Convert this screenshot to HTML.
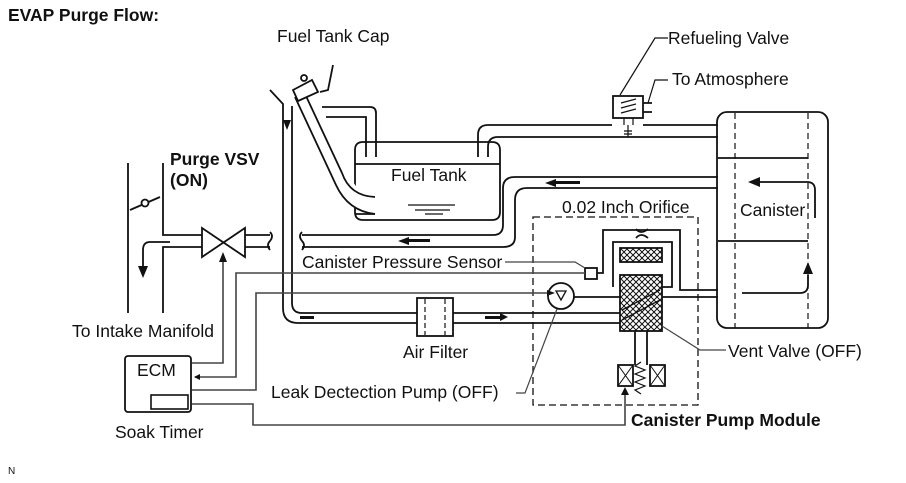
<!DOCTYPE html>
<html><head><meta charset="utf-8"><style>
html,body{margin:0;padding:0;background:#fff;width:906px;height:483px;overflow:hidden}
svg{display:block}
text{font-family:"Liberation Sans",Arial,sans-serif;font-size:17.5px;fill:#111}
.b{font-weight:bold}
</style></head><body>
<svg width="906" height="483" viewBox="0 0 906 483" xmlns="http://www.w3.org/2000/svg">
<defs>
<pattern id="h" width="6" height="6" patternUnits="userSpaceOnUse"><path d="M0 0L6 6M6 0L0 6" stroke="#111" stroke-width="1"/></pattern>
</defs>
<g fill="none" stroke="#111" stroke-width="1.8">
<line x1="128" y1="163" x2="128" y2="313"/>
<path d="M163 163V235H202"/>
<path d="M163 313V247H202"/>
<path d="M130 210L160 197"/>
<circle cx="145" cy="203" r="3.5" fill="#fff"/>
<path d="M170 242H150Q143 242 143 250V268"/>
<path d="M202 228L245 257V228L202 257Z"/>
<path d="M245 235H270M245 247H270"/>
<path d="M270 232q4 4 0 9q-4 4 0 9"/>
<path d="M302 232q-4 4 0 9q4 4 0 9"/>
<path d="M302 235H493Q503 235 503 225V188Q503 177 515 177H718"/>
<path d="M302 247H503Q515 247 515 237V200Q515 188 527 188H718"/>
<path d="M270 90L283 104V308Q283 323 298 323H417"/>
<path d="M292 106V303Q292 313 302 313H417"/>
<path d="M453 313H620M453 323H620"/>
<rect x="417" y="298" width="36" height="38"/>
<path d="M425 299V335M445 299V335" stroke-dasharray="5 3" stroke-width="1.2"/>
<path d="M355 150Q355 142 363 142H492Q500 142 500 150V212Q500 220 492 220H363Q355 220 355 212Z"/>
<line x1="355" y1="164" x2="500" y2="164"/>
<path d="M408 205H455M415 210H450M425 214H443" stroke-width="1.2"/>
<path d="M295 97L336 185Q348 211 375 214" fill="#fff"/>
<path d="M306 96L342 173Q350 196 375 197"/>
<path d="M355 214H375"/>
<path d="M293 90L312 80L318 92L298 101Z" fill="#fff"/>
<circle cx="304" cy="78" r="3" fill="#fff"/>
<path d="M320 92L328 90L333 65"/>
<path d="M322 107H370Q376 107 376 113V157"/>
<path d="M326 117H366V157"/>
<path d="M478 157V135Q478 125 488 125H612"/>
<path d="M488 157V147Q488 137 498 137H718"/>
<path d="M643 125H718"/>
<rect x="613" y="96" width="30" height="22"/>
<path d="M621 103L636 99M621 108L636 104M621 113L636 109" stroke-width="1.2"/>
<path d="M624 118V125M633 118V125M628 125V137M624 131H632M624 134H632" stroke-width="1.2"/>
<path d="M643 103H652M643 112H652"/>
<path d="M620 95L655 38H668" stroke-width="1.2"/>
<path d="M648 103L655 80H668" stroke-width="1.2"/>
<rect x="717" y="112" width="111" height="216" rx="10"/>
<path d="M735 113V328M808 113V328" stroke-dasharray="6 4" stroke-width="1.2"/>
<path d="M718 158H808M718 241H808"/>
<path d="M815 218V190Q815 182 807 182H760"/>
<path d="M742 293H800Q808 293 808 285V275"/>
<rect x="533" y="217" width="165" height="188" stroke-dasharray="7 4" stroke-width="1.3"/>
<path d="M597 273H603V230H680V290H718"/>
<path d="M613 287V242H672V287H662"/>
<rect x="620" y="248" width="42" height="14" fill="url(#h)"/>
<rect x="620" y="275" width="42" height="56" fill="url(#h)"/>
<path d="M622 310L660 290M622 320L660 300" stroke-width="1.3"/>
<path d="M662 297H718"/>
<path d="M574 297H620"/>
<path d="M636 238q5 -6 12 0M636 229q5 6 12 0"/>
<rect x="585" y="268" width="12" height="11"/>
<circle cx="561" cy="296" r="13" fill="#fff"/>
<path d="M556 291H566L561 300Z" stroke-width="1.3"/>
<path d="M635 331V365M647 331V365"/>
<rect x="618" y="365" width="15" height="21"/>
<rect x="650" y="365" width="15" height="21"/>
<path d="M618 365L633 386M633 365L618 386M650 365L665 386M665 365L650 386" stroke-width="1"/>
<path d="M641 362l-6 4l10 4l-10 4l10 4l-10 4l10 4l-10 4l6 4" stroke-width="1.2"/>
</g>
<g fill="none" stroke="#444" stroke-width="1.6">
<path d="M223 257V363H192"/>
<path d="M585 273H236V377H195"/>
<path d="M548 293H256V390H192"/>
<path d="M192 404H253V425H625V390"/>
<path d="M505 262H575L585 268" stroke-width="1.2"/>
<path d="M516 393H525L557 309" stroke-width="1.2"/>
<path d="M662 326L700 350H726" stroke-width="1.2"/>
</g>
<rect x="125" y="356" width="66" height="56" rx="3" fill="none" stroke="#111" stroke-width="1.8"/>
<rect x="151" y="395" width="37" height="14" fill="none" stroke="#111" stroke-width="1.6"/>
<g fill="#111">
<path d="M138 266H148L143 278Z"/>
<path d="M283 120H291L287 130Z"/>
<path d="M545 183L556 179V187Z"/><rect x="555" y="181" width="25" height="3"/>
<path d="M398 241L409 237V245Z"/><rect x="408" y="239" width="22" height="3"/>
<path d="M748 182L760 177V187Z"/>
<path d="M808 262L803 274H813Z"/>
<rect x="300" y="316" width="14" height="3"/>
<rect x="485" y="316" width="18" height="3"/><path d="M508 317L500 313V321Z"/>
<path d="M219 262H227L223 252Z"/>
<path d="M194 377L200 374V380Z"/>
<path d="M555 293L547 290V296Z"/>
<path d="M625 387L621 395H629Z"/>
</g>
<text x="8" y="21" class="b">EVAP Purge Flow:</text>
<text x="277" y="42">Fuel Tank Cap</text>
<text x="668" y="44">Refueling Valve</text>
<text x="672" y="85">To Atmosphere</text>
<text x="170" y="165" class="b">Purge VSV</text>
<text x="170" y="186" class="b">(ON)</text>
<text x="391" y="181">Fuel Tank</text>
<text x="562" y="213">0.02 Inch Orifice</text>
<text x="740" y="216">Canister</text>
<text x="302" y="268">Canister Pressure Sensor</text>
<text x="72" y="337">To Intake Manifold</text>
<text x="403" y="358">Air Filter</text>
<text x="728" y="357">Vent Valve (OFF)</text>
<text x="137" y="376">ECM</text>
<text x="271" y="398">Leak Dectection Pump (OFF)</text>
<text x="631" y="426" class="b">Canister Pump Module</text>
<text x="115" y="438">Soak Timer</text>
<text x="8" y="474" style="font-size:10px">N</text>
</svg>
</body></html>
